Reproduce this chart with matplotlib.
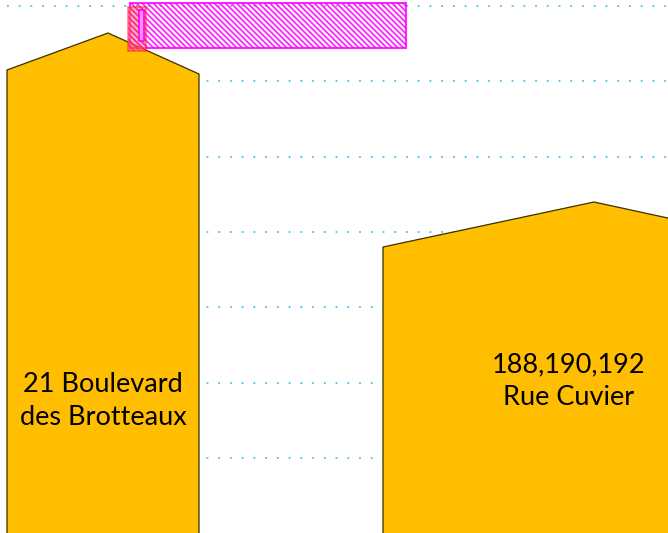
import matplotlib
matplotlib.use("Agg")
import matplotlib.pyplot as plt
from matplotlib.patches import Polygon, Rectangle

# buildings (pixel space, y downwards): left, right, left wall top, peak x, peak y, right wall top
names = ["21 Boulevard\ndes Brotteaux", "188,190,192\nRue Cuvier"]
left_x = [7, 383]
right_x = [199, 760]
left_top = [70, 247]
peak_x = [108, 594]
peak_y = [33, 202]
right_top = [74, 238]
label_x = [103, 569]
label_y = [401, 381]

grid_y = [6, 81, 157, 232, 307, 383, 458]

plt.rcParams["hatch.linewidth"] = 1.3
plt.rcParams["hatch.color"] = "#ff00ff"

fig = plt.figure(figsize=(6.68, 5.33), dpi=100)
ax = fig.add_axes([0, 0, 1, 1])
ax.set_xlim(0, 668)
ax.set_ylim(533, 0)
ax.axis("off")

for gy in grid_y:
    ax.plot([7, 668], [gy, gy], color="#3fc4f0", lw=1.3,
            linestyle=(0, (1, 5.5)), zorder=1)

for i in range(len(names)):
    pts = [(left_x[i], 560), (left_x[i], left_top[i]), (peak_x[i], peak_y[i]),
           (right_x[i], right_top[i]), (right_x[i], 560)]
    ax.add_patch(Polygon(pts, closed=True, facecolor="#ffbf00",
                         edgecolor="#3a3000", lw=0.9, zorder=2))
    ax.text(label_x[i], label_y[i], names[i], ha="center", va="center",
            fontsize=19.5, family=["Lato", "DejaVu Sans"], linespacing=1.4,
            color="black", zorder=3)

# highlighted boxes
ax.add_patch(Rectangle((130, 3), 276, 45, facecolor="none", edgecolor="#ff00ff",
                       hatch="\\\\\\\\\\\\", lw=1.5, alpha=0.85, zorder=4))
ax.add_patch(Rectangle((128, 7), 18, 44, facecolor="#ff7090", edgecolor="#ff2020",
                       hatch="\\\\\\\\\\\\", lw=1.3, alpha=0.5, zorder=5))
ax.add_patch(Rectangle((138.5, 10), 5, 31, facecolor="#ff90ff", edgecolor="#ff00ff",
                       lw=1.2, zorder=6))

fig.savefig("out.png", dpi=100)
